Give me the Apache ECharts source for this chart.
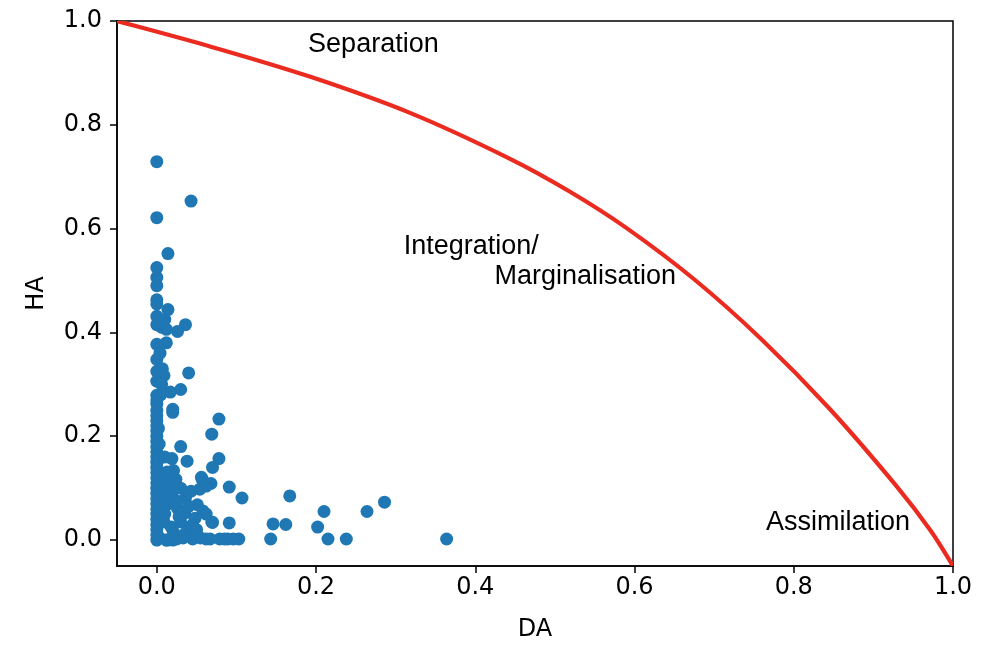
<!DOCTYPE html>
<html>
<head>
<meta charset="utf-8">
<script src="https://cdn.jsdelivr.net/npm/echarts@6/dist/echarts.min.js"></script>
<style>
html,body{margin:0;padding:0;background:#fff;}
#chart{width:1000px;height:664px;}
</style>
</head>
<body>
<div id="chart"></div>
<script>
// Scatter points (DA, HA)
const pointsDA = [
  0, 0.043, 0, 0.014, 0, 0, 0, 0, 0, 0.014, 0, 0.010, 0, 0.036, 0.006, 0.026, 0.012, 0.012, 0, 0,
  0, 0.040, 0.009, 0, 0.030, 0.017, 0, 0, 0, 0.020, 0.020, 0, 0, 0, 0, 0, 0, 0, 0, 0,
  0, 0, 0, 0, 0, 0, 0, 0, 0, 0, 0, 0, 0, 0, 0, 0, 0, 0.003, 0.002, 0.003, 0.002, 0.003, 0.002, 0.003, 0.002,
  0.078, 0.069, 0.030, 0.019, 0.038, 0.078, 0.070, 0.021, 0.024, 0.057, 0.068, 0.054, 0.043, 0.091, 0.107, 0.167, 0.036, 0.019, 0.013, 0.013,
  0.051, 0.058, 0.048, 0.069, 0.091, 0.035, 0.026, 0.039, 0.030, 0.021, 0.048, 0.062, 0.079, 0.103, 0.013, 0.009, 0.009, 0.015, 0.210, 0.264,
  0.286, 0.146, 0.162, 0.202, 0.143, 0.215, 0.238, 0.364, 0.089, 0.096, 0.067, 0.045, 0.025, 0.033, 0.055, 0.070, 0.062, 0.040, 0.028, 0.018,
  0.010, 0.006, 0.016, 0.030, 0.025, 0.045, 0.008, 0.010, 0.056, 0.062, 0.005, 0.007, 0.004, 0.006, 0.012, 0.020, 0.034, 0.050, 0.085, 0.008
];
const pointsHA = [
  0.729, 0.653, 0.621, 0.552, 0.525, 0.506, 0.490, 0.463, 0.455, 0.444, 0.431, 0.425, 0.415, 0.415, 0.410, 0.402, 0.406, 0.380, 0.377, 0.348,
  0.325, 0.322, 0.317, 0.306, 0.290, 0.285, 0.279, 0.270, 0.262, 0.252, 0.246, 0.250, 0.240, 0.230, 0.220, 0.210, 0.200, 0.190, 0.180, 0.170,
  0.160, 0.150, 0.140, 0.130, 0.120, 0.110, 0.100, 0.090, 0.080, 0.070, 0.060, 0.050, 0.040, 0.030, 0.020, 0.010, 0.000, 0.005, 0.035, 0.065, 0.095, 0.125, 0.155, 0.185, 0.215,
  0.233, 0.204, 0.180, 0.157, 0.152, 0.157, 0.140, 0.134, 0.117, 0.117, 0.109, 0.098, 0.094, 0.102, 0.081, 0.085, 0.081, 0.090, 0.108, 0.131,
  0.068, 0.056, 0.042, 0.035, 0.033, 0.052, 0.061, 0.022, 0.035, 0.015, 0.010, 0.002, 0.002, 0.002, 0.000, 0.035, 0.075, 0.070, 0.055, 0.055,
  0.073, 0.031, 0.030, 0.025, 0.002, 0.002, 0.002, 0.002, 0.002, 0.002, 0.002, 0.002, 0.002, 0.004, 0.004, 0.034, 0.050, 0.065, 0.045, 0.025,
  0.050, 0.090, 0.100, 0.100, 0.075, 0.030, 0.120, 0.160, 0.121, 0.104, 0.280, 0.330, 0.360, 0.300, 0.000, 0.000, 0.010, 0.020, 0.002, 0.055
];
// Boundary curve
const curveDA = [-0.05, 0.067, 0.192, 0.318, 0.443, 0.519, 0.591, 0.676, 0.760, 0.845, 0.929, 0.972, 1.0];
const curveHA = [1.0, 0.951, 0.893, 0.823, 0.735, 0.671, 0.600, 0.501, 0.386, 0.253, 0.104, 0.018, -0.05];
// Tick labels
const tickValues = [0, 0.2, 0.4, 0.6, 0.8, 1.0];
// Region labels
const regionLabels = ['Separation', 'Integration/', 'Marginalisation', 'Assimilation'];

const chart = echarts.init(document.getElementById('chart'), null, {renderer: 'canvas'});
const scatterData = pointsDA.map((d, i) => [d, pointsHA[i]]);
const curveData = curveDA.map((d, i) => [d, curveHA[i]]);
const labelPos = [[0.19, 0.955], [0.31, 0.565], [0.424, 0.508], [0.765, 0.033]];
const labelData = regionLabels.map((t, i) => ({value: labelPos[i], name: t}));

// Smooth curve through the read points (Catmull-Rom rendered as cubic Beziers in pixel space)
function renderCurve(params, api) {
  if (params.dataIndex !== 0) return null;
  const p = curveData.map(d => api.coord(d));
  const n = p.length;
  let path = 'M' + p[0][0] + ' ' + p[0][1];
  for (let i = 0; i < n - 1; i++) {
    const p0 = p[Math.max(i - 1, 0)], p1 = p[i], p2 = p[i + 1], p3 = p[Math.min(i + 2, n - 1)];
    const c1x = p1[0] + (p2[0] - p0[0]) / 6, c1y = p1[1] + (p2[1] - p0[1]) / 6;
    const c2x = p2[0] - (p3[0] - p1[0]) / 6, c2y = p2[1] - (p3[1] - p1[1]) / 6;
    path += ' C' + c1x + ' ' + c1y + ' ' + c2x + ' ' + c2y + ' ' + p2[0] + ' ' + p2[1];
  }
  return {
    type: 'path',
    shape: {pathData: path},
    style: {fill: null, stroke: '#eb2a20', lineWidth: 4.2, lineJoin: 'round'}
  };
}

const axisCommon = {
  type: 'value',
  min: -0.05,
  max: 1.0,
  splitLine: {show: false},
  axisLine: {show: true, onZero: false, lineStyle: {color: '#000', width: 1.5}},
  axisTick: {show: true, inside: false, length: 7, lineStyle: {color: '#000', width: 1.5}, customValues: tickValues},
  nameTextStyle: {fontFamily: 'DejaVu Sans', fontSize: 24, color: '#000'},
};

chart.setOption({
  animation: false,
  backgroundColor: '#fff',
  grid: {left: 117, right: 47, top: 21, bottom: 98, show: true, borderColor: '#000', borderWidth: 1.5, containLabel: false},
  xAxis: Object.assign({}, axisCommon, {
    name: 'DA', nameLocation: 'middle', nameGap: 52,
    axisLabel: {customValues: tickValues, margin: 10, fontFamily: 'DejaVu Sans', fontSize: 24, color: '#000',
      formatter: v => v.toFixed(1)}
  }),
  yAxis: Object.assign({}, axisCommon, {
    name: 'HA', nameLocation: 'middle', nameGap: 68,
    axisLabel: {customValues: tickValues, margin: 15, fontFamily: 'DejaVu Sans', fontSize: 24, color: '#000',
      formatter: v => v.toFixed(1)}
  }),
  series: [
    {
      type: 'custom', data: curveData, renderItem: renderCurve, clip: true, z: 3, silent: true
    },
    {
      type: 'scatter', data: scatterData, symbolSize: 13,
      itemStyle: {color: '#1f77b4', opacity: 1}, z: 2, silent: true
    },
    {
      type: 'scatter', data: labelData, symbolSize: 0, silent: true, z: 4,
      itemStyle: {opacity: 1},
      label: {show: true, position: [0, 0], align: 'left', verticalAlign: 'middle', opacity: 1,
        formatter: p => p.name, fontFamily: 'Liberation Sans', fontSize: 27, color: '#000'}
    }
  ]
});
</script>
</body>
</html>
